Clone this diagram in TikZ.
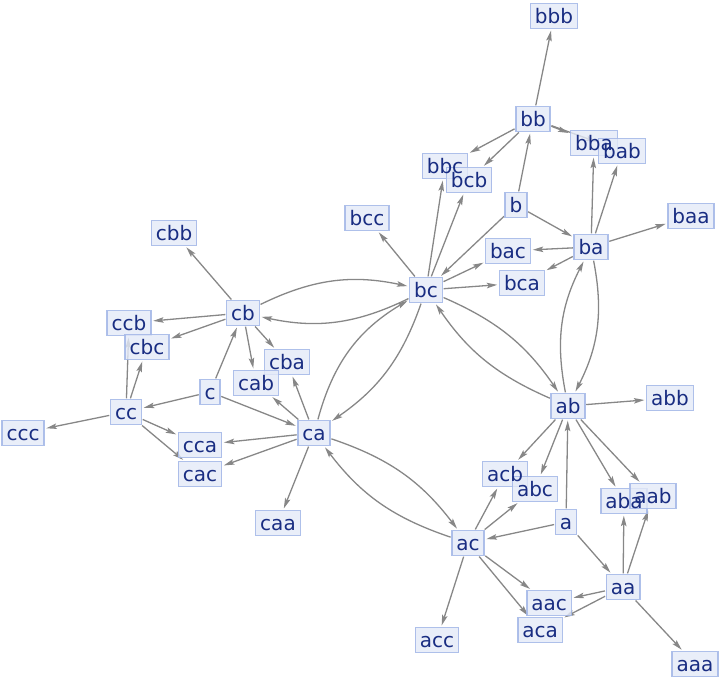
\documentclass[tikz,border=0pt]{standalone}
\usepackage{fontspec}
\setmainfont{DejaVu Sans}
\usetikzlibrary{arrows.meta}
\pgfdeclarelayer{background}
\pgfsetlayers{background,main}
\definecolor{vfill}{RGB}{228,234,248}
\definecolor{vdraw}{RGB}{165,185,232}
\definecolor{vtext}{RGB}{25,45,130}
\definecolor{egray}{RGB}{135,135,135}
\newcommand{\vlist}{bbb/554/16,bb/533/119,bba/594/143,bab/622/151,bbc/445/166,bcb/469/180,b/516/205,baa/691/216,bcc/367/218,ba/591/247,bac/508/251,bca/522/283,bc/426/290,cbb/174/233,cb/243/313,ccb/129/323,cbc/147/347,cba/287/362,cab/256/383,c/210/392,cc/126/412,ccc/23/433,ca/314/433,cca/200/445,cac/200/474,caa/278/523,ab/568/406,abb/670/398,acb/505/474,abc/535/489,aba/624/501,aab/653/496,a/566/522,ac/468/543,aa/623/587,aac/549/603,aca/540/630,acc/437/640,aaa/695/664}
\begin{document}
\begin{tikzpicture}[x=1pt,y=-1pt,
  vbase/.style={line width=1.5pt,text=vtext,
    font=\fontsize{20}{24}\selectfont,inner xsep=4.5pt,inner ysep=4.75pt,text height=15.3pt,text depth=0pt},
  vbox/.style={vbase,draw=vdraw,fill=vfill,fill opacity=0.8,draw opacity=0.9},
  vlab/.style={vbase,draw=none,fill=none},
  edge/.style={draw=egray,line width=1.3pt,-{Stealth[length=10.5pt,width=5.5pt,inset=2pt]},shorten >=1.5pt,shorten <=0.5pt},
  bl/.style={bend left=19}]
\useasboundingbox (0,0) rectangle (720,680);
% vertex boxes (named; used by the connectors)
\foreach \n/\x/\y in \vlist { \node[vbox] (\n) at (\x,\y) {\phantom{\n}}; }
% labels on top of all boxes
\foreach \n/\x/\y in \vlist { \node[vlab] at (\n) {\n}; }
% edges, behind the boxes
\begin{pgfonlayer}{background}
\begin{scope}[every path/.style={edge}]
\draw (bb) -- (bbb);
\draw (bb) -- (bbc);
\draw (bb) -- (bcb);
\draw (bb) -- (bba);
\draw (bb) -- (bab);
\draw (b) -- (bb);
\draw (b) -- (ba);
\draw (b) -- (bc);
\draw (bc) -- (bbc);
\draw (bc) -- (bcb);
\draw (bc) -- (bac);
\draw (bc) -- (bca);
\draw (bc) -- (bcc);
\draw (ba) -- (bac);
\draw (ba) -- (bca);
\draw (ba) -- (bba);
\draw (ba) -- (bab);
\draw (ba) -- (baa);
\draw (ab) to[bl] (ba);
\draw (ba) to[bl] (ab);
\draw (bc) to[bend left=16] (ab);
\draw (ab) to[bend left=16] (bc);
\draw (cb) to[bl] (bc);
\draw (bc) to[bl] (cb);
\draw (ca) to[bend left=22] (bc);
\draw (bc) to[bend left=18] (ca);
\draw (cb) -- (cbb);
\draw (cb) -- (ccb);
\draw (cb) -- (cbc);
\draw (cb) -- (cab);
\draw (cb) -- (cba);
\draw (c) -- (cb);
\draw (c) -- (cc);
\draw (c) -- (ca);
\draw (cc) -- (ccc);
\draw (cc) -- (ccb);
\draw (cc) -- (cbc);
\draw (cc) -- (cca);
\draw (cc) -- (cac);
\draw (ca) -- (cca);
\draw (ca) -- (cac);
\draw (ca) -- (cab);
\draw (ca) -- (cba);
\draw (ca) -- (caa);
\draw (ca) to[bend left=17] (ac);
\draw (ac) to[bend left=17] (ca);
\draw (ab) -- (abb);
\draw (ab) -- (acb);
\draw (ab) -- (abc);
\draw (ab) -- (aba);
\draw (ab) -- (aab);
\draw (a) -- (ab);
\draw (a) -- (ac);
\draw (a) -- (aa);
\draw (ac) -- (acb);
\draw (ac) -- (abc);
\draw (ac) -- (aac);
\draw (ac) -- (aca);
\draw (ac) -- (acc);
\draw (aa) -- (aba);
\draw (aa) -- (aab);
\draw (aa) -- (aac);
\draw (aa) -- (aca);
\draw (aa) -- (aaa);
\end{scope}
\end{pgfonlayer}
\end{tikzpicture}
\end{document}
